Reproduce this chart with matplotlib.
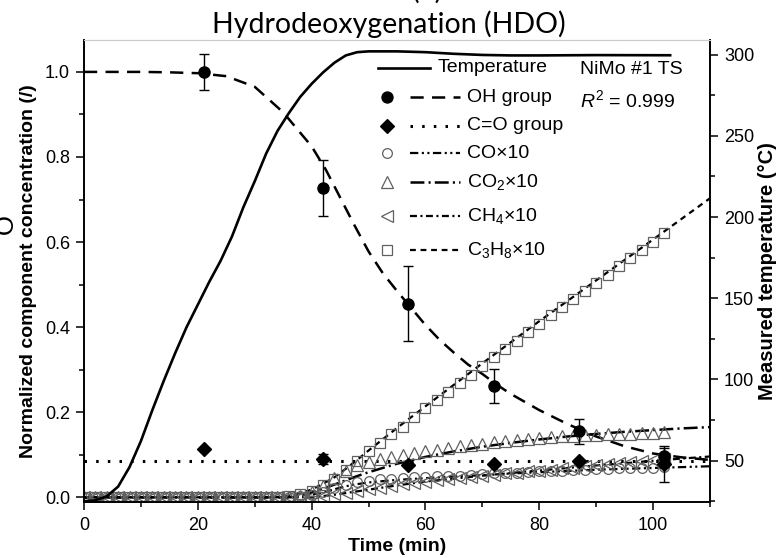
import numpy as np
import matplotlib
matplotlib.use("Agg")
import matplotlib.pyplot as plt
from matplotlib.lines import Line2D
from matplotlib.ticker import MultipleLocator

plt.rcParams['font.family'] = ['Liberation Sans', 'DejaVu Sans']
plt.rcParams['mathtext.fontset'] = 'custom'
plt.rcParams['mathtext.rm'] = 'Liberation Sans'
plt.rcParams['mathtext.it'] = 'Liberation Sans:italic'
plt.rcParams['lines.scale_dashes'] = False

# measured points (every 2 min), products x10
t_meas = np.arange(0, 103, 2)
co_x10 = [0.0]*19 + [0.002, 0.006, 0.013, 0.021, 0.029, 0.035, 0.039, 0.042, 0.044, 0.046, 0.047,
                     0.048, 0.049, 0.050, 0.051, 0.053, 0.054, 0.056, 0.057, 0.058, 0.060, 0.061,
                     0.062, 0.063, 0.064, 0.065, 0.066, 0.067, 0.068, 0.069, 0.070, 0.070, 0.071]
co2_x10 = [0.0]*19 + [0.004, 0.012, 0.026, 0.045, 0.062, 0.075, 0.083, 0.089, 0.094, 0.099, 0.104,
                      0.108, 0.112, 0.116, 0.120, 0.123, 0.126, 0.129, 0.132, 0.135, 0.137, 0.139,
                      0.141, 0.143, 0.145, 0.146, 0.147, 0.148, 0.149, 0.150, 0.151, 0.152, 0.153]
ch4_x10 = [0.0]*19 + [0.0, 0.002, 0.004, 0.007, 0.011, 0.015, 0.019, 0.023, 0.027, 0.031, 0.034,
                      0.037, 0.040, 0.042, 0.045, 0.048, 0.050, 0.053, 0.056, 0.058, 0.061, 0.063,
                      0.065, 0.068, 0.070, 0.073, 0.075, 0.078, 0.080, 0.083, 0.085, 0.088, 0.090]
c3h8_x10 = [0.0]*17 + [0.001, 0.004, 0.008, 0.014, 0.030, 0.044, 0.065, 0.085, 0.108, 0.128, 0.148,
                       0.166, 0.189, 0.210, 0.229, 0.248, 0.269, 0.288, 0.309, 0.330, 0.348, 0.368,
                       0.388, 0.408, 0.428, 0.447, 0.466, 0.484, 0.504, 0.523, 0.543, 0.562, 0.582,
                       0.601, 0.621]

# FTIR groups with error bars
t_grp = [21, 42, 57, 72, 87, 102]
oh = [1.0, 0.727, 0.455, 0.262, 0.155, 0.098]
oh_err = [0.043, 0.065, 0.088, 0.040, 0.029, 0.018]
co_grp = [0.113, 0.091, 0.075, 0.078, 0.086, 0.078]
co_grp_err = [0.0, 0.012, 0.0, 0.0, 0.0, 0.042]

# model curves
t_oh_fit = [0, 10, 15, 20, 25, 30, 35, 40, 42.5, 45, 47.5, 50, 52.5, 55, 57.5, 60, 62.5, 65,
            67.5, 70, 72.5, 75, 80, 85, 90, 95, 100, 105, 110]
oh_fit = [1.0, 1.0, 0.999, 0.997, 0.99, 0.965, 0.905, 0.825, 0.77, 0.705, 0.64, 0.578, 0.527,
          0.485, 0.445, 0.405, 0.37, 0.34, 0.312, 0.29, 0.265, 0.243, 0.205, 0.172, 0.143, 0.12,
          0.103, 0.094, 0.088]
t_cog_fit = [0, 110]
cog_fit = [0.086, 0.086]
t_gas_fit = [0, 36, 38, 40, 42, 44, 46, 48, 50, 55, 60, 65, 70, 75, 80, 85, 90, 95, 100, 105, 110]
co_fit = [0, 0, 0.002, 0.006, 0.012, 0.019, 0.026, 0.031, 0.035, 0.041, 0.045, 0.049, 0.052,
          0.056, 0.059, 0.062, 0.065, 0.067, 0.069, 0.071, 0.073]
co2_fit = [0, 0, 0.004, 0.011, 0.020, 0.030, 0.040, 0.050, 0.059, 0.079, 0.095, 0.108, 0.119,
           0.128, 0.136, 0.143, 0.149, 0.154, 0.158, 0.162, 0.165]
ch4_fit = [0, 0, 0, 0.001, 0.003, 0.006, 0.010, 0.014, 0.018, 0.028, 0.037, 0.044, 0.051,
           0.057, 0.063, 0.069, 0.075, 0.080, 0.086, 0.091, 0.096]
t_c3_fit = [0, 32, 34, 36, 38, 40, 42, 44, 46, 48, 50, 55, 60, 70, 80, 90, 100, 110]
c3h8_fit = [0, 0, 0.001, 0.004, 0.010, 0.018, 0.032, 0.047, 0.067, 0.088, 0.110, 0.163, 0.214,
            0.315, 0.414, 0.510, 0.606, 0.703]

# temperature
t_temp = [0, 2, 4, 6, 8, 10, 12, 14, 16, 18, 20, 22, 24, 26, 28, 30, 32, 34, 36, 38, 40, 42, 44,
          46, 48, 50, 55, 60, 65, 70, 75, 80, 90, 103]
temp = [25, 25.5, 28, 34, 46, 62, 81, 99, 116, 132, 146, 160, 173, 188, 206, 222, 239, 253, 264,
        274, 282, 289, 295, 299.5, 301.5, 302, 302, 301.5, 300.5, 299.8, 299.5, 299.5, 299.7, 299.6]

W, H = 778, 558
fig = plt.figure(figsize=(W/100, H/100), dpi=100)
ax = fig.add_axes([84/W, 1-502/H, 626/W, 462/H])
ax2 = ax.twinx()

gray = '#606060'
s_oh = (0, (9.5, 6))
s_dot = (0, (1.8, 6.6))
s_co = (0, (6, 2.5, 1.5, 2.5, 1.5, 2.5))
s_co2 = (0, (10, 3, 1.5, 3))
s_ch4 = (0, (5, 2.5, 1.5, 2.5))
s_c3 = (0, (4.2, 3.4))

ax.plot(t_oh_fit, oh_fit, color='k', lw=1.8, ls=s_oh)
ax.plot(t_cog_fit, cog_fit, color='k', lw=2.2, ls=s_dot)
ax.plot(t_gas_fit, co_fit, color='k', lw=1.6, ls=s_co)
ax.plot(t_gas_fit, co2_fit, color='k', lw=1.8, ls=s_co2)
ax.plot(t_gas_fit, ch4_fit, color='k', lw=1.6, ls=s_ch4)
ax.plot(t_c3_fit, c3h8_fit, color='k', lw=1.6, ls=s_c3)

ax.plot(t_meas, co_x10, 'o', ms=7, mfc='none', mec=gray, mew=0.9)
ax.plot(t_meas, co2_x10, '^', ms=8.5, mfc='none', mec=gray, mew=0.9)
ax.plot(t_meas, ch4_x10, '<', ms=8, mfc='none', mec=gray, mew=0.9)
ax.plot(t_meas, c3h8_x10, 's', ms=6.5, mfc='none', mec=gray, mew=0.9)

ax.errorbar(t_grp, oh, yerr=oh_err, fmt='o', color='k', ms=8, capsize=3.6, elinewidth=1,
            capthick=1, zorder=5)
ax.errorbar(t_grp, co_grp, yerr=co_grp_err, fmt='D', color='k', ms=7, capsize=3.6,
            elinewidth=1, capthick=1, zorder=5)

ax2.plot(t_temp, temp, color='k', lw=1.9)

ax.set_xlim(0, 110)
ax.set_ylim(-0.011, 1.075)
ax2.set_ylim(24.5, 309)
ax.xaxis.set_major_locator(MultipleLocator(20))
ax.xaxis.set_minor_locator(MultipleLocator(10))
ax.yaxis.set_major_locator(MultipleLocator(0.2))
ax.yaxis.set_minor_locator(MultipleLocator(0.1))
ax.yaxis.set_major_formatter(matplotlib.ticker.FormatStrFormatter('%.1f'))
ax2.yaxis.set_major_locator(MultipleLocator(50))
ax2.yaxis.set_minor_locator(MultipleLocator(25))
ax2.set_yticks([50, 100, 150, 200, 250, 300])

for a in (ax, ax2):
    a.tick_params(which='major', length=6, width=1.1, labelsize=13, direction='out')
    a.tick_params(which='minor', length=3.5, width=1.1, direction='out')
    for sp in a.spines.values():
        sp.set_linewidth(1.2)
    a.spines['top'].set_color('#cccccc')
    a.spines['top'].set_linewidth(0.8)
ax.tick_params(axis='x', pad=5)
ax.tick_params(axis='y', pad=4)
ax2.tick_params(axis='y', pad=4)

ax.set_xlabel('Time (min)', fontsize=14, fontweight='bold', labelpad=3)
ax.set_ylabel('Normalized component concentration (/)', fontsize=14, fontweight='bold', labelpad=6)
ax2.set_ylabel('Measured temperature (\u00b0C)', fontsize=14.5, fontweight='bold', labelpad=3)

# legend drawn Origin-style
def fx(px):
    return px / W

def fy(py):
    return 1 - py / H

fig.add_artist(Line2D([fx(378), fx(430)], [fy(68), fy(68)], color='k', lw=1.9,
                      transform=fig.transFigure))
fig.text(fx(438), fy(68), 'Temperature', fontsize=14, va='center', ha='left')
rows = [
    (97, 'o', 'k', 'k', 8, s_oh, 1.8, 'OH group'),
    (126, 'D', 'k', 'k', 7, s_dot, 2.2, 'C=O group'),
    (153, 'o', 'none', gray, 7, s_co, 1.6, 'CO\u00d710'),
    (182, '^', 'none', gray, 8.5, s_co2, 1.8, 'CO$_2$\u00d710'),
    (216, '<', 'none', gray, 8, s_ch4, 1.6, 'CH$_4$\u00d710'),
    (250, 's', 'none', gray, 6.5, s_c3, 1.6, 'C$_3$H$_8$\u00d710'),
]
for py, mk, fc, ec, ms, ls, lw, lab in rows:
    fig.add_artist(Line2D([fx(387)], [fy(py)], marker=mk, ms=ms, mfc=fc, mec=ec, mew=0.9,
                          ls='none', transform=fig.transFigure))
    fig.add_artist(Line2D([fx(410), fx(460)], [fy(py), fy(py)], color='k', lw=lw, ls=ls,
                          transform=fig.transFigure))
    fig.text(fx(467), fy(py), lab, fontsize=14, va='center', ha='left')

fig.text(fx(580), fy(70), 'NiMo #1 TS', fontsize=14, va='center', ha='left')
fig.text(fx(580), fy(100), '$R^2$ = 0.999', fontsize=14, va='center', ha='left')

fig.text(0.5, fy(33), 'Hydrodeoxygenation (HDO)', fontsize=20.5, family=['Lato', 'DejaVu Sans'],
         ha='center', va='baseline')
fig.text(fx(427), fy(-1), '(b)', fontsize=20.5, family=['Lato', 'DejaVu Sans'],
         ha='center', va='baseline')
fig.text(fx(-6), fy(224), 'O', fontsize=18, family=['Lato', 'DejaVu Sans'], rotation=90,
         ha='left', va='center')

fig.savefig('out.png', dpi=100)
